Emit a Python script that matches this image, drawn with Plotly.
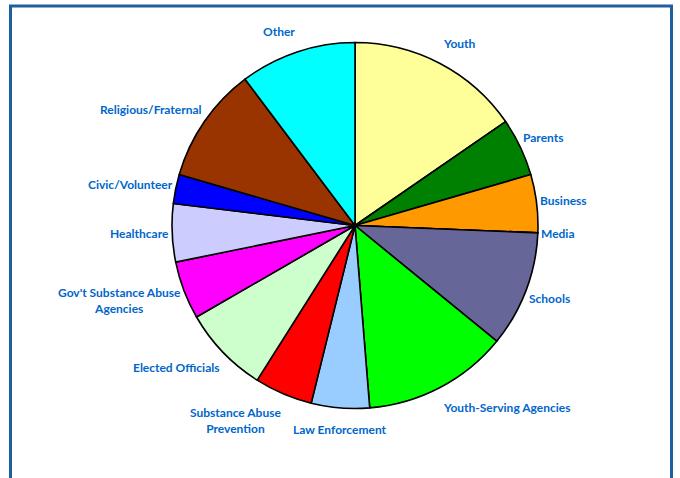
import math
import plotly.graph_objects as go

categories = ["Youth", "Parents", "Business", "Media", "Schools",
              "Youth-Serving Agencies", "Law Enforcement",
              "Substance Abuse<br>Prevention", "Elected Officials",
              "Gov't Substance Abuse<br>Agencies", "Healthcare",
              "Civic/Volunteer", "Religious/Fraternal", "Other"]
values = [6, 2, 2, 0, 4, 5, 2, 2, 3, 2, 2, 1, 4, 4]
colors = ["#FFFF99", "#008000", "#FF9900", "#3366FF", "#666699", "#00FF00",
          "#99CCFF", "#FF0000", "#CCFFCC", "#FF00FF", "#CCCCFF", "#0000FF",
          "#993300", "#00FFFF"]

W, H = 680, 478
cx, cy, R = 355, 225.5, 183

fig = go.Figure(go.Pie(
    labels=categories, values=values, sort=False, direction="clockwise",
    rotation=0, textinfo="none", hoverinfo="label+percent",
    marker=dict(colors=colors, line=dict(color="black", width=1.6)),
    domain=dict(x=[(cx - R) / W, (cx + R) / W],
                y=[(H - cy - R) / H, (H - cy + R) / H]),
    showlegend=False,
))

total = sum(values)
cum = 0.0
gap_x, gap_y = 1, 15
line_h = 14
for lab, v in zip(categories, values):
    mid = (cum + v / 2) / total * 2 * math.pi
    cum += v
    s, c = math.sin(mid), math.cos(mid)
    h = line_h * len(lab.split("<br>"))
    px = cx + (R + gap_x) * s
    py = cy - (R + gap_y) * c - c * h / 2
    xa = "left" if s > 0.15 else ("right" if s < -0.15 else "center")
    fig.add_annotation(x=px / W, y=1 - py / H, xref="paper", yref="paper",
                       text=lab, showarrow=False, xanchor=xa, yanchor="middle",
                       align="center",
                       font=dict(family="Lato", size=12, color="#0066CC", weight="bold"))

fig.add_shape(type="rect", xref="paper", yref="paper",
              x0=10.5 / W, x1=671.5 / W, y0=-0.05, y1=1 - 6 / H,
              line=dict(color="#1F5F9F", width=3))

fig.update_layout(width=W, height=H, margin=dict(l=0, r=0, t=0, b=0),
                  paper_bgcolor="white", plot_bgcolor="white")
fig.write_html("out.html", config={"displayModeBar": False},
               post_script="document.body.style.margin='0';document.body.style.overflow='hidden';")
